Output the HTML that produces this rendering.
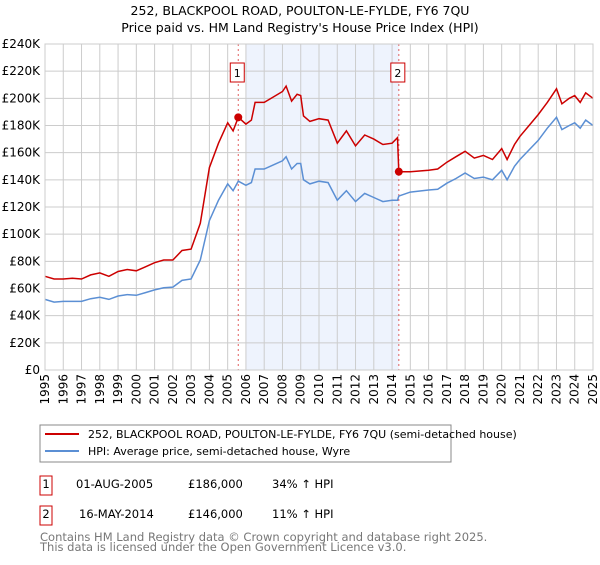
<!DOCTYPE html>
<html><head><meta charset="utf-8"><style>
body{margin:0;background:#fff;font-family:"Liberation Sans","DejaVu Sans",sans-serif}
svg text{font-family:"DejaVu Sans","Liberation Sans",sans-serif}
</style></head><body>
<svg id="c" width="600" height="560" xmlns="http://www.w3.org/2000/svg">
<text x="300" y="15" text-anchor="middle" font-size="12.5">252, BLACKPOOL ROAD, POULTON-LE-FYLDE, FY6 7QU</text>
<text x="300" y="32" text-anchor="middle" font-size="12.5">Price paid vs. HM Land Registry's House Price Index (HPI)</text>
<g id="grid"></g><g id="series"></g><g id="axes"></g>
<rect x="40" y="425" width="411" height="37" fill="#fff" stroke="#888"/>
<line x1="45" y1="434" x2="79" y2="434" stroke="#cc0000" stroke-width="2"/>
<text x="88" y="438" font-size="11">252, BLACKPOOL ROAD, POULTON-LE-FYLDE, FY6 7QU (semi-detached house)</text>
<line x1="45" y1="451" x2="79" y2="451" stroke="#5b8fd4" stroke-width="2"/>
<text x="88" y="455" font-size="11">HPI: Average price, semi-detached house, Wyre</text>
<g font-size="11.5">
<rect x="40" y="476" width="12" height="19" fill="#fff" stroke="#cc0000"/>
<text x="46" y="488" text-anchor="middle">1</text>
<text x="76" y="488">01-AUG-2005</text>
<text x="188" y="488">£186,000</text>
<text x="272" y="488">34% ↑ HPI</text>
<rect x="40" y="506" width="12" height="19" fill="#fff" stroke="#cc0000"/>
<text x="46" y="518" text-anchor="middle">2</text>
<text x="79" y="518">16-MAY-2014</text>
<text x="188" y="518">£146,000</text>
<text x="272" y="518">11% ↑ HPI</text>
</g>
<text x="40" y="541" font-size="11.5" fill="#777">Contains HM Land Registry data © Crown copyright and database right 2025.</text>
<text x="40" y="551" font-size="11.5" fill="#777">This data is licensed under the Open Government Licence v3.0.</text>
</svg>
<script>
const years=[1995,1995.5,1996,1996.5,1997,1997.5,1998,1998.5,1999,1999.5,2000,2000.5,2001,2001.5,2002,2002.5,2003,2003.5,2004,2004.5,2005,2005.3,2005.58,2006,2006.3,2006.5,2007,2007.5,2008,2008.2,2008.5,2008.8,2009,2009.15,2009.5,2010,2010.5,2011,2011.5,2012,2012.5,2013,2013.5,2014,2014.3,2014.37,2015,2016,2016.5,2017,2017.5,2018,2018.5,2019,2019.5,2020,2020.3,2020.7,2021,2021.5,2022,2022.5,2023,2023.3,2023.7,2024,2024.3,2024.6,2025];
const hpiValues=[52,50,50.5,50.5,50.5,52.5,53.5,52,54.5,55.5,55,57,59,60.5,61,66,67,81,110,125,137,132,139,136,138,148,148,151,154,157,148,152,152,140,137,139,138,125,132,124,130,127,124,125,125,128,131,132.5,133,137.5,141,145,141,142,140,147,140,150,155,162,169,178,186,177,180,182,178,184,180];
const priceValues=[69,67,67,67.5,67,70,71.5,69,72.5,74,73,76,79,81,81,88,89,108,149,167,182,176,186,181,184,197,197,201,205,209,198,203,202,187,183,185,184,167,176,165,173,170,166,167,171,146,146,147,148,153,157,161,156,158,155,163,155,166,172,180,188,197,207,196,200,202,197,204,200];
const yTicks=[0,20,40,60,80,100,120,140,160,180,200,220,240];
const yTickLabels=["£0","£20K","£40K","£60K","£80K","£100K","£120K","£140K","£160K","£180K","£200K","£220K","£240K"];
const xTicks=[1995,1996,1997,1998,1999,2000,2001,2002,2003,2004,2005,2006,2007,2008,2009,2010,2011,2012,2013,2014,2015,2016,2017,2018,2019,2020,2021,2022,2023,2024,2025];
const saleYears=[2005.58,2014.37];
const salePrices=[186,146];
const saleLabels=["1","2"];
const shadeRange=[2006,2014.37];

const NS="http://www.w3.org/2000/svg";
const X0=45,X1=593,Y0=370,Y1=44;
const xs=v=>X0+(v-1995)/30*(X1-X0);
const ys=v=>Y0-v/240*(Y0-Y1);
function mk(tag,attrs,parent){const e=document.createElementNS(NS,tag);for(const k in attrs)e.setAttribute(k,attrs[k]);parent.appendChild(e);return e;}
const grid=document.getElementById('grid'),ser=document.getElementById('series'),ax=document.getElementById('axes');
const bg=mk('rect',{x:X0,y:Y1,width:X1-X0,height:Y0-Y1,fill:'#fff'},grid);


const sh=mk('rect',{x:xs(shadeRange[0]),y:Y1,width:xs(shadeRange[1])-xs(shadeRange[0]),height:Y0-Y1,fill:'#eef3fd'},grid);


yTicks.forEach((t,i)=>{
  const l=mk('line',{x1:X0,x2:X1,y1:ys(t),y2:ys(t),stroke:'#ccc'},grid);
  
  
  const tx=mk('text',{x:40,y:ys(t)+4,'text-anchor':'end','font-size':12},ax);
  tx.textContent=yTickLabels[i];
  
  
});
xTicks.forEach(t=>{
  const l=mk('line',{x1:xs(t),x2:xs(t),y1:Y1,y2:Y0,stroke:'#ccc'},grid);
  
  
  const tx=mk('text',{x:0,y:0,'text-anchor':'end','font-size':12,transform:`translate(${xs(t)+4},374) rotate(-90)`},ax);
  tx.textContent=t;
  
  
});
saleYears.forEach((y,i)=>{
  const l=mk('line',{x1:xs(y),x2:xs(y),y1:Y1,y2:Y0,stroke:'#e06060','stroke-dasharray':'2,3'},ser);
  
  
  const r=mk('rect',{x:xs(y)-8,y:63,width:14,height:19,fill:'#fff',stroke:'#cc0000'},ser);
  
  
  const t=mk('text',{x:xs(y)-1,y:77,'text-anchor':'middle','font-size':11},ser);
  t.textContent=saleLabels[i];
  
  
});
const pts=a=>a.map((v,i)=>xs(years[i]).toFixed(1)+','+ys(v).toFixed(1)).join(' ');
const hp=mk('polyline',{points:pts(hpiValues),fill:'none',stroke:'#5b8fd4','stroke-width':1.5},ser);


const pp=mk('polyline',{points:pts(priceValues),fill:'none',stroke:'#cc0000','stroke-width':1.5},ser);


saleYears.forEach((y,i)=>{
  const c=mk('circle',{cx:xs(y),cy:ys(salePrices[i]),r:4,fill:'#cc0000'},ser);
  
  
});
const fr=mk('rect',{x:X0,y:Y1,width:X1-X0,height:Y0-Y1,fill:'none',stroke:'#ccc'},ax);


</script>
</body></html>
